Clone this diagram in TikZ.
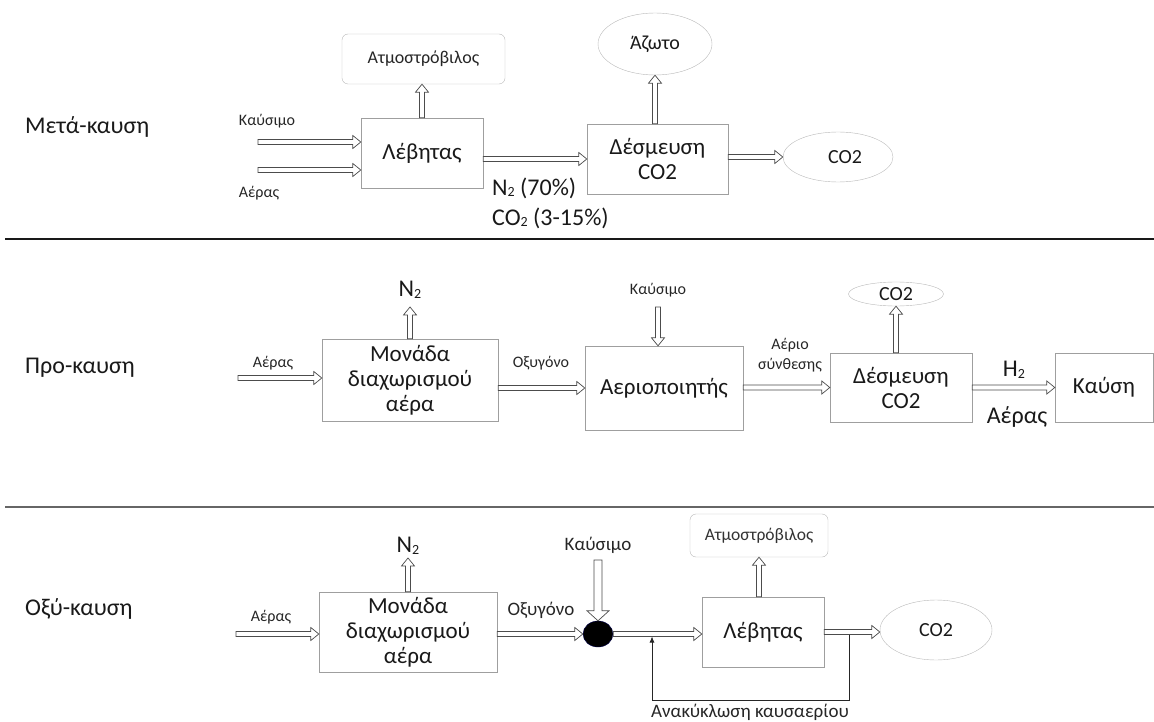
\documentclass[tikz,border=0pt]{standalone}
\usepackage{fontspec}
\setmainfont{Carlito}
\usetikzlibrary{calc,arrows.meta,shapes.geometric}

% block arrow: shaft half width, head half width, head length
\def\fw{2.5pt}
\def\fh{6.5pt}
\def\fl{8pt}
\newcommand\lowtwo{\raisebox{-0.15ex}{\fontsize{14}{14}\selectfont 2}}

\tikzset{
  box/.style={draw=gray!75, rectangle, inner sep=0pt, align=center, text=black!90, font=\fontsize{23}{25}\selectfont},
  tbox/.style={draw=gray!55, rounded corners=6pt, inner sep=0pt, text=black!85, font=\fontsize{18}{20}\selectfont},
  oval/.style={draw=gray!55, ellipse, inner sep=0pt, text=black!90, font=\fontsize{20}{24}\selectfont},
  lbl/.style={inner sep=0pt, text=black!85, font=\fontsize{16}{20}\selectfont},
  lblc/.style={lbl, font=\fontsize{19}{22}\selectfont},
  big/.style={inner sep=0pt, text=black!90, font=\fontsize{24}{28}\selectfont},
  flow/.style={draw=black!70, fill=white, line width=0.7pt, to path={
      ($(\tikztostart)!\fw!90:(\tikztotarget)$)
      -- ($($(\tikztotarget)!\fl!(\tikztostart)$)!\fw!-90:(\tikztostart)$)
      -- ($($(\tikztotarget)!\fl!(\tikztostart)$)!\fh!-90:(\tikztostart)$)
      -- (\tikztotarget)
      -- ($($(\tikztotarget)!\fl!(\tikztostart)$)!\fh!90:(\tikztostart)$)
      -- ($($(\tikztotarget)!\fl!(\tikztostart)$)!\fw!90:(\tikztostart)$)
      -- ($(\tikztostart)!\fw!-90:(\tikztotarget)$) -- cycle}},
  wideflow/.style={flow, /utils/exec={\def\fw{4pt}\def\fh{11pt}\def\fl{10pt}}},
  recyc/.style={draw=black!85, line width=0.8pt, -{Latex[length=6pt,width=5pt]}},
}

\begin{document}
\begin{tikzpicture}[x=1pt, y=-1pt]
  \useasboundingbox (0,0) rectangle (1154,722);

  % Post-combustion
  \node[big, anchor=west] (titA) at (25,127) {Μετά-καυση};
  \node[box, minimum width=122pt, minimum height=70pt] (boilA) at (422,153) {Λέβητας};
  \node[tbox, minimum width=163pt, minimum height=50pt] (turbA) at (423.5,59) {Ατμοστρόβιλος};
  \node[box, minimum width=141pt, minimum height=70pt] (capA) at (657.5,159) {Δέσμευση\\CO2};
  \node[oval, minimum width=114pt, minimum height=62pt] (nitroA) at (655,44) {Άζωτο};
  \node[oval, minimum width=110pt, minimum height=50pt] (co2A) at (838,157) {\hspace{14pt}CO2};
  \coordinate (fuelA) at (258,142);
  \coordinate (airA) at (258,170);
  \node[lbl] (fuelAl) at (267,121) {Καύσιμο};
  \node[lbl] (airAl) at (259,193) {Αέρας};
  \node[big, anchor=west] (fluA) at (492,188) {N\lowtwo\ (70\%)};
  \node[big, anchor=west] (flubA) at (492,218) {CO\lowtwo\ (3-15\%)};
  \draw[flow] (fuelA) to (fuelA -| boilA.west);
  \draw[flow] (airA) to (airA -| boilA.west);
  \draw[flow] (boilA.north) to (boilA.north |- turbA.south);
  \draw[flow] (boilA.east |- capA.west) to (capA.west);
  \draw[flow] (nitroA.south |- capA.north) to (nitroA.south);
  \draw[flow] (capA.east |- co2A.west) to (co2A.west);

  \draw[black!90, line width=1.3pt] (5,239) -- (1154,239);

  % Pre-combustion
  \node[big, anchor=west] (titB) at (25,368) {Προ-καυση};
  \node[box, minimum width=176pt, minimum height=82pt] (asuB) at (410,380) {Μονάδα\\διαχωρισμού\\αέρα};
  \node[box, minimum width=158pt, minimum height=84pt] (gasB) at (664,388) {Αεριοποιητής};
  \node[box, minimum width=142pt, minimum height=69pt] (capB) at (901,387.5) {Δέσμευση\\CO2};
  \node[oval, minimum width=95pt, minimum height=24pt] (co2B) at (896,294) {CO2};
  \node[box, minimum width=98pt, minimum height=69pt] (burnB) at (1104,387.5) {Καύση};
  \coordinate (airB) at (238,378);
  \coordinate (n2Bt) at (410,307);
  \coordinate (fuelB) at (658,307);
  \node[lbl] (airBl) at (273,363) {Αέρας};
  \node[big] (n2B) at (410,290) {N\lowtwo};
  \node[lbl] (oxyBl) at (541,363) {Οξυγόνο};
  \node[lbl] (fuelBl) at (658,290) {Καύσιμο};
  \node[lbl, align=center] (synBl) at (790,355) {Αέριο\\σύνθεσης};
  \node[big] (h2B) at (1014,370) {H\lowtwo};
  \node[big] (airB2) at (1017,417) {Αέρας};
  \draw[flow] (airB) to (airB -| asuB.west);
  \draw[flow] (asuB.north) to (n2Bt);
  \draw[flow] (asuB.east |- gasB.west) to (gasB.west);
  \draw[flow] (fuelB) to (fuelB |- gasB.north);
  \draw[flow] (gasB.east |- capB.west) to (capB.west);
  \draw[flow] (co2B.south |- capB.north) to (co2B.south);
  \draw[flow] (capB.east) to (burnB.west);

  \draw[black!60, line width=1.1pt] (5,507) -- (1154,507);

  % Oxy-combustion
  \node[big, anchor=west] (titC) at (25,609) {Οξύ-καυση};
  \node[box, minimum width=178pt, minimum height=80pt] (asuC) at (408,632) {Μονάδα\\διαχωρισμού\\αέρα};
  \node[ellipse, draw=blue!30!black, fill=black, minimum width=30pt, minimum height=26pt, inner sep=0pt] (mixC) at (598,634) {};
  \node[box, minimum width=122pt, minimum height=70pt] (boilC) at (763,632) {Λέβητας};
  \node[tbox, minimum width=138pt, minimum height=43pt, text=black!80, font=\fontsize{17.5}{20}\selectfont] (turbC) at (759,535.5) {Ατμοστρόβιλος};
  \node[oval, minimum width=112pt, minimum height=60pt] (co2C) at (936,630) {CO2};
  \coordinate (airC) at (236,634);
  \coordinate (n2Ct) at (408,558);
  \coordinate (fuelC) at (598,560);
  \coordinate (recS) at (849,634.5);
  \coordinate (recE) at (652,636.5);
  \node[lbl] (airCl) at (271,617) {Αέρας};
  \node[big] (n2C) at (408,546) {N\lowtwo};
  \node[lblc] (oxyCl) at (541,610) {Οξυγόνο};
  \node[lblc] (fuelCl) at (598,545) {Καύσιμο};
  \node[lblc] (recl) at (750,712) {Ανακύκλωση καυσαερίου};
  \draw[flow] (airC) to (airC -| asuC.west);
  \draw[flow] (asuC.north) to (n2Ct);
  \draw[flow] (asuC.east |- mixC.west) to (mixC.west);
  \draw[wideflow] (fuelC) to (mixC.north);
  \draw[flow] (mixC.east) to (mixC.east -| boilC.west);
  \draw[flow] (turbC.south |- boilC.north) to (turbC.south);
  \draw[flow] (boilC.east) to (boilC.east -| co2C.west);
  \draw[recyc] (recS) -- ++(0,65.5) -| (recE);
\end{tikzpicture}
\end{document}
